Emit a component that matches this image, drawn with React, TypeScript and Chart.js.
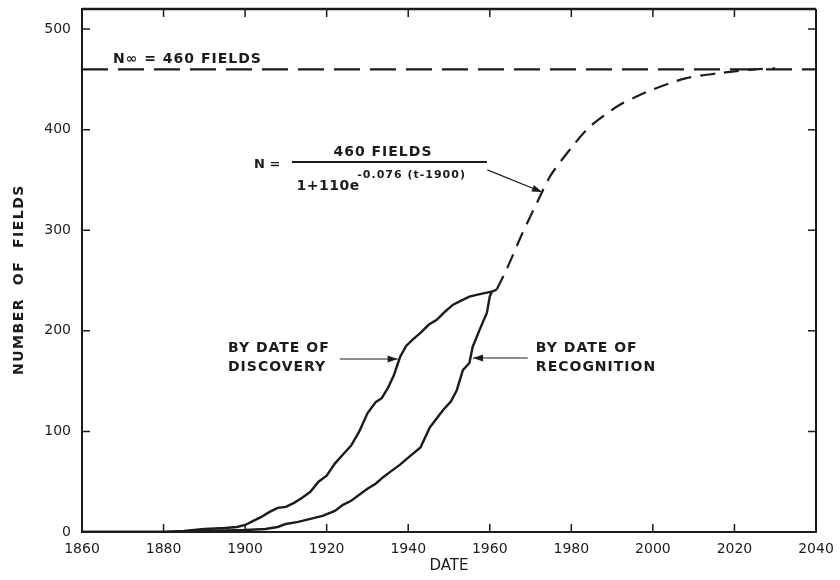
import React, { useEffect, useRef } from "react";
import { Chart, registerables } from "chart.js";

Chart.register(...registerables);

// ---- data ----
const discoveryYears = [1860, 1870, 1880, 1885, 1890, 1895, 1898, 1900, 1902, 1904, 1906, 1908, 1910, 1912, 1914, 1916, 1918, 1920, 1922, 1924, 1926, 1928, 1930, 1932, 1933.5, 1935, 1936.5, 1938, 1939.5, 1941, 1943, 1945, 1947, 1949, 1951, 1953, 1955, 1957, 1959.3, 1960.5];
const discoveryFields = [0, 0, 0, 1, 3, 4, 5, 7, 11, 15, 20, 24, 25, 29, 34, 40, 50, 56, 68, 77, 86, 100, 118, 129, 133, 143, 156, 174, 185, 191, 198, 206, 211, 219, 226, 230, 234, 236, 238, 239];

const recognitionYears = [1860, 1880, 1890, 1900, 1905, 1908, 1910, 1913, 1916, 1919, 1922, 1924, 1926, 1928, 1930, 1932, 1934, 1936, 1938, 1940, 1943, 1945.3, 1948.5, 1950.5, 1951.9, 1953.4, 1955, 1955.8, 1957.5, 1959.3, 1960, 1960.5, 1961.7];
const recognitionFields = [0, 0, 1, 2, 3, 5, 8, 10, 13, 16, 21, 27, 31, 37, 43, 48, 55, 61, 67, 74, 84, 104, 121, 130, 141, 161, 168, 184, 201, 218, 234, 239, 241];

const logisticYears = [1961.7, 1964, 1968, 1972, 1975, 1980, 1984, 1988, 1992, 1996, 2000, 2004, 2008, 2012, 2016, 2020, 2025, 2030];
const logisticFields = [241, 260, 297, 331, 355, 382, 401, 414, 425, 433, 440, 446, 451, 454, 456, 458, 460, 461];

const asymptoteYears = [1860, 2040];
const asymptoteFields = [460, 460];

const xTickValues = [1860, 1880, 1900, 1920, 1940, 1960, 1980, 2000, 2020, 2040];
const yTickValues = [0, 100, 200, 300, 400, 500];

const INK = "#1c1c1c";
const FONT = "'DejaVu Sans', sans-serif";

const toPoints = (xs: number[], ys: number[]) => xs.map((x, i) => ({ x, y: ys[i] }));

function drawArrow(ctx: CanvasRenderingContext2D, x1: number, y1: number, x2: number, y2: number) {
  ctx.beginPath();
  ctx.moveTo(x1, y1);
  ctx.lineTo(x2, y2);
  ctx.stroke();
  const a = Math.atan2(y2 - y1, x2 - x1);
  const L = 10, W = 3.5;
  ctx.beginPath();
  ctx.moveTo(x2, y2);
  ctx.lineTo(x2 - L * Math.cos(a) + W * Math.sin(a), y2 - L * Math.sin(a) - W * Math.cos(a));
  ctx.lineTo(x2 - L * Math.cos(a) - W * Math.sin(a), y2 - L * Math.sin(a) + W * Math.cos(a));
  ctx.closePath();
  ctx.fill();
}

const framePlugin = {
  id: "frame",
  afterDraw(chart: any) {
    const { ctx, chartArea: ca, scales } = chart;
    const xs = scales.x, ys = scales.y;
    ctx.save();
    ctx.strokeStyle = INK;
    ctx.fillStyle = INK;
    // top and right frame
    ctx.lineWidth = 2.5;
    ctx.beginPath();
    ctx.moveTo(ca.left, ca.top);
    ctx.lineTo(ca.right, ca.top);
    ctx.stroke();
    ctx.lineWidth = 2;
    ctx.beginPath();
    ctx.moveTo(ca.right, ca.top);
    ctx.lineTo(ca.right, ca.bottom);
    ctx.stroke();
    // inward ticks
    ctx.lineWidth = 1.5;
    const T = 8;
    xs.ticks.forEach((t: any) => {
      const px = xs.getPixelForValue(t.value);
      ctx.beginPath();
      ctx.moveTo(px, ca.bottom);
      ctx.lineTo(px, ca.bottom - T);
      ctx.moveTo(px, ca.top);
      ctx.lineTo(px, ca.top + T);
      ctx.stroke();
    });
    ys.ticks.forEach((t: any) => {
      const py = ys.getPixelForValue(t.value);
      ctx.beginPath();
      ctx.moveTo(ca.left, py);
      ctx.lineTo(ca.left + T, py);
      ctx.moveTo(ca.right, py);
      ctx.lineTo(ca.right - T, py);
      ctx.stroke();
    });

    const X = (v: number) => xs.getPixelForValue(v);
    const Y = (v: number) => ys.getPixelForValue(v);

    ctx.textBaseline = "middle";
    ctx.textAlign = "left";
    (ctx as any).letterSpacing = "1px";
    ctx.font = `bold 14px ${FONT}`;
    ctx.fillText("N\u221E = 460 FIELDS", X(1867.6), Y(470));

    // formula
    ctx.font = `bold 13px ${FONT}`;
    (ctx as any).letterSpacing = "0px";
    ctx.fillText("N =", X(1902.2), Y(365));
    ctx.textAlign = "center";
    ctx.font = `bold 14px ${FONT}`;
    (ctx as any).letterSpacing = "1px";
    ctx.fillText("460 FIELDS", X(1933.8), Y(377));
    ctx.lineWidth = 2;
    ctx.beginPath();
    ctx.moveTo(X(1911.5), Y(368));
    ctx.lineTo(X(1959.3), Y(368));
    ctx.stroke();
    ctx.textAlign = "left";
    ctx.font = `bold 14px ${FONT}`;
    (ctx as any).letterSpacing = "0.5px";
    ctx.fillText("1+110e", X(1912.6), Y(344));
    ctx.font = `bold 11px ${FONT}`;
    (ctx as any).letterSpacing = "1px";
    ctx.fillText("-0.076 (t-1900)", X(1927.5), Y(355));
    ctx.lineWidth = 1.2;
    drawArrow(ctx, X(1959.4), Y(360), X(1972.8), Y(338));

    // curve labels
    ctx.font = `bold 14px ${FONT}`;
    (ctx as any).letterSpacing = "1px";
    ctx.fillText("BY DATE OF", X(1895.8), Y(183));
    ctx.fillText("DISCOVERY", X(1895.8), Y(164));
    ctx.fillText("BY DATE OF", X(1971.3), Y(183));
    ctx.fillText("RECOGNITION", X(1971.3), Y(164));
    ctx.lineWidth = 1.2;
    drawArrow(ctx, X(1923.2), Y(172), X(1937.4), Y(172));
    drawArrow(ctx, X(1969.3), Y(173), X(1955.9), Y(173));

    // y axis title
    ctx.save();
    ctx.translate(19, Y(251));
    ctx.rotate(-Math.PI / 2);
    ctx.textAlign = "center";
    ctx.font = `bold 14px ${FONT}`;
    (ctx as any).letterSpacing = "1.5px";
    ctx.fillText("NUMBER  OF  FIELDS", 0, 0);
    ctx.restore();

    ctx.restore();
  },
};

export default function App() {
  const ref = useRef<HTMLCanvasElement | null>(null);
  useEffect(() => {
    document.body.style.margin = "0";
    const canvas = ref.current;
    if (!canvas) return;
    const tickFont = { family: FONT, size: 14 };
    const chart = new Chart(canvas, {
      type: "scatter",
      data: {
        datasets: [
          {
            label: "By date of discovery",
            data: toPoints(discoveryYears, discoveryFields),
            showLine: true,
            borderColor: INK,
            borderWidth: 2.4,
            pointRadius: 0,
            tension: 0,
          },
          {
            label: "By date of recognition",
            data: toPoints(recognitionYears, recognitionFields),
            showLine: true,
            borderColor: INK,
            borderWidth: 2.4,
            pointRadius: 0,
            tension: 0,
          },
          {
            label: "Logistic",
            data: toPoints(logisticYears, logisticFields),
            showLine: true,
            borderColor: INK,
            borderWidth: 2.2,
            borderDash: [15, 9],
            pointRadius: 0,
            tension: 0.3,
          },
          {
            label: "N infinity",
            data: toPoints(asymptoteYears, asymptoteFields),
            showLine: true,
            borderColor: INK,
            borderWidth: 2.4,
            borderDash: [26, 10],
            pointRadius: 0,
          },
        ],
      },
      options: {
        responsive: false,
        animation: false,
        layout: { padding: { top: 9, right: 24, left: 0, bottom: 0 } },
        plugins: { legend: { display: false }, tooltip: { enabled: false }, title: { display: false } },
        scales: {
          x: {
            type: "linear",
            min: 1860,
            max: 2040,
            afterBuildTicks: (s: any) => {
              s.ticks = xTickValues.map((v) => ({ value: v }));
            },
            afterFit: (s: any) => {
              s.height = 48;
              s.paddingLeft = 0;
              s.paddingRight = 0;
            },
            ticks: {
              font: tickFont,
              color: INK,
              padding: 9,
              maxRotation: 0,
              autoSkip: false,
              callback: (v: any) => String(v),
            },
            grid: { display: true, drawOnChartArea: false, drawTicks: false },
            border: { display: true, color: INK, width: 2 },
            title: {
              display: true,
              text: "DATE",
              color: INK,
              font: { family: FONT, size: 15 },
              padding: { top: 0, bottom: 5 },
            },
          },
          y: {
            type: "linear",
            min: 0,
            max: 520,
            afterBuildTicks: (s: any) => {
              s.ticks = yTickValues.map((v) => ({ value: v }));
            },
            afterFit: (s: any) => {
              s.width = 82;
              s.paddingTop = 0;
              s.paddingBottom = 0;
            },
            ticks: { font: tickFont, color: INK, padding: 11, callback: (v: any) => String(v) },
            grid: { display: true, drawOnChartArea: false, drawTicks: false },
            border: { display: true, color: INK, width: 2 },
          },
        },
      },
      plugins: [framePlugin],
    } as any);
    return () => chart.destroy();
  }, []);
  return (
    <div style={{ width: 840, height: 580, background: "#fff" }}>
      <canvas ref={ref} width={840} height={580} />
    </div>
  );
}
